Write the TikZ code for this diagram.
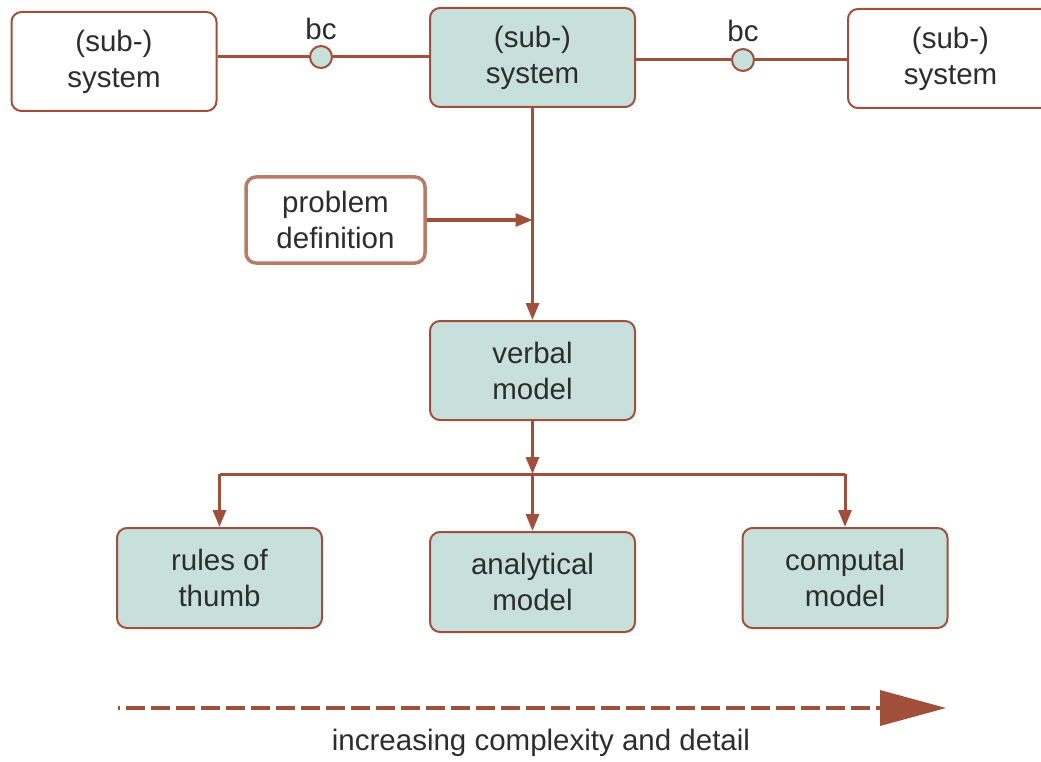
\documentclass[tikz,border=0pt]{standalone}
\usepackage{fontspec}
\setmainfont{Liberation Sans}
\usetikzlibrary{arrows.meta}
\definecolor{brn}{RGB}{160,80,58}
\definecolor{brnl}{RGB}{185,122,104}
\definecolor{tl}{RGB}{200,224,220}
\definecolor{txt}{RGB}{45,45,45}
\begin{document}
\begin{tikzpicture}[x=1pt,y=-1pt,
 box/.style={draw=brn, line width=2pt, rounded corners=10pt, minimum width=205pt, minimum height=99pt, align=center, text=txt, font=\fontsize{29.5}{36}\selectfont, inner sep=0pt},
 sub/.style={box, fill=white},
 mod/.style={box, fill=tl},
 conn/.style={draw=brn, line width=3pt},
 arr/.style={conn, -{Triangle[length=17pt,width=13pt]}},
 bcn/.style={circle, draw=brn, fill=tl, line width=2pt, minimum size=22pt, inner sep=0pt},
 lbl/.style={text=txt, font=\fontsize{29.5}{36}\selectfont, inner sep=0pt}]
\clip (0,0) rectangle (1041,762);
\fill[white] (0,0) rectangle (1041,762);
% top row
\node[sub] (s1) at (114,61.5) {(sub-)\\system};
\node[mod] (s2) at (532.5,57.5) {(sub-)\\system};
\node[sub] (s3) at (950.5,58.5) {(sub-)\\system};
\node[bcn] (b1) at (321,57) {};
\node[bcn] (b2) at (743,60) {};
\node[lbl] (bl1) at (321,29) {bc};
\node[lbl] (bl2) at (743,31) {bc};
\draw[conn] (s1.east |- b1) -- (b1) -- (s2.west |- b1);
\draw[conn] (s2.east |- b2) -- (b2) -- (s3.west |- b2);
% problem definition
\node[box, draw=brnl, line width=3.5pt, fill=white, minimum width=179pt, minimum height=86pt] (pd) at (335.5,220) {problem\\definition};
% verbal model
\node[mod] (vm) at (532.5,370.5) {verbal\\model};
\coordinate (j1) at (532.5,220);
\draw[arr] (s2.south) -- (vm.north);
\draw[arr] (pd.east) -- (j1);
% lower row
\node[mod, minimum height=100pt] (rt) at (219.5,578) {rules of\\thumb};
\node[mod, minimum height=100pt] (am) at (532.5,582) {analytical\\model};
\node[mod, minimum height=100pt] (cm) at (845,578) {computal\\model};
\coordinate (bus) at (532.5,474);
\coordinate (bl) at (219.5,474);
\coordinate (br) at (845,474);
\draw[arr] (vm.south) -- (bus);
\draw[conn] (bl) -- (br);
\draw[arr] (bl) -- (rt.north);
\draw[arr] (bus) -- (am.north);
\draw[arr] (br) -- (cm.north);
% bottom arrow
\coordinate (a0) at (118,708);
\coordinate (a1) at (880,708);
\coordinate (t1) at (880,690);
\coordinate (t2) at (946,708);
\coordinate (t3) at (880,726);
\draw[brn, line width=4.5pt, dash pattern=on 19pt off 6pt, dash phase=17pt] (a0) -- (a1);
\fill[brn] (t1) -- (t2) -- (t3) -- cycle;
\node[lbl] (lab) at (541,743) {increasing complexity and detail};
\end{tikzpicture}
\end{document}
